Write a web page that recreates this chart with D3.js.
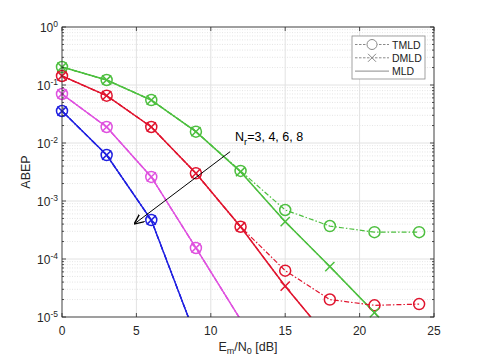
<!DOCTYPE html>
<html><head><meta charset="utf-8">
<script src="https://cdn.jsdelivr.net/npm/d3@7"></script>
<style>body{margin:0;background:#fff}svg{font-family:"Liberation Sans",Arial,sans-serif}</style>
</head><body><svg id="c" width="480" height="360"></svg>
<script>
const snr = [0, 3, 6, 9, 12, 15, 18, 21, 24];
const seriesNames = ["Nr=3", "Nr=4", "Nr=6", "Nr=8"];
const colors = ["#4dbf3f", "#e0142e", "#df52df", "#2020e0"];
const mld3 = [0.204, 0.122, 0.055, 0.0157, 0.0032, 4.4e-4, 7.4e-5, 1.19e-5, 1.5e-6];
const tmld3 = [0.204, 0.122, 0.055, 0.0157, 0.0033, 7.0e-4, 3.7e-4, 2.9e-4, 2.9e-4];
const mld4 = [0.143, 0.0655, 0.0189, 0.003, 3.6e-4, 3.4e-5, 4.0e-6];
const tmld4 = [0.143, 0.0655, 0.0189, 0.003, 3.6e-4, 6.3e-5, 2.0e-5, 1.59e-5, 1.67e-5];
const mld6 = [0.07, 0.0189, 2.6e-3, 1.55e-4, 9e-6];
const mld8 = [0.0356, 0.0062, 4.7e-4, 4.5e-6];
const xTicks = [0, 5, 10, 15, 20, 25];
const yTicks = [1e-5, 1e-4, 1e-3, 1e-2, 1e-1, 1];
const legendNames = ["TMLD", "DMLD", "MLD"];
const arrowFrom = [11.3, 0.0071];
const arrowTo = [4.9, 4.1e-4];

const mldSets = [mld3, mld4, mld6, mld8];
const tmldSets = [tmld3, tmld4, mld6, mld8];
const dmldSets = [mld3, mld4, mld6, mld8];

const L = 62, R = 434, T = 27, B = 317;
const svg = d3.select("#c");
const x = d3.scaleLinear().domain([0, 25]).range([L, R]);
const y = d3.scaleLog().domain([1e-5, 1]).range([B, T]);
const axisCol = "#262626";

svg.append("defs").append("clipPath").attr("id", "clip")
  .append("rect").attr("x", L).attr("y", T).attr("width", R - L).attr("height", B - T);

// grid
const g = svg.append("g");
const minorY = [];
for (let e = -5; e < 0; e++) for (let m = 2; m <= 9; m++) minorY.push(m * Math.pow(10, e));
g.selectAll(".my").data(minorY).enter().append("line")
  .attr("x1", L).attr("x2", R).attr("y1", d => y(d)).attr("y2", d => y(d))
  .attr("stroke", "#d4d4d4").attr("stroke-width", 0.6).attr("stroke-dasharray", "1,1.5");
g.selectAll(".gy").data(yTicks).enter().append("line")
  .attr("x1", L).attr("x2", R).attr("y1", d => y(d)).attr("y2", d => y(d))
  .attr("stroke", "#e2e2e2").attr("stroke-width", 1);
g.selectAll(".gx").data(xTicks).enter().append("line")
  .attr("y1", T).attr("y2", B).attr("x1", d => x(d)).attr("x2", d => x(d))
  .attr("stroke", "#e2e2e2").attr("stroke-width", 1);

// data
const plot = svg.append("g").attr("clip-path", "url(#clip)");
const line = d3.line().x((d, i) => x(snr[i])).y(d => y(d));
const inRange = v => v >= 1e-5 && v <= 1;
const dashDot = "5,2,1.5,2";

mldSets.forEach((arr, k) => {
  plot.append("path").attr("d", line(arr)).attr("fill", "none")
    .attr("stroke", colors[k]).attr("stroke-width", 1.5);
  plot.append("path").attr("d", line(dmldSets[k])).attr("fill", "none")
    .attr("stroke", colors[k]).attr("stroke-width", 1.2).attr("stroke-dasharray", dashDot);
  plot.append("path").attr("d", line(tmldSets[k])).attr("fill", "none")
    .attr("stroke", colors[k]).attr("stroke-width", 1.2).attr("stroke-dasharray", dashDot);
});
const mk = svg.append("g");
tmldSets.forEach((arr, k) => {
  arr.forEach((v, i) => {
    if (!inRange(v)) return;
    mk.append("circle").attr("cx", x(snr[i])).attr("cy", y(v)).attr("r", 5.5)
      .attr("fill", "none").attr("stroke", colors[k]).attr("stroke-width", 1.5);
  });
});
dmldSets.forEach((arr, k) => {
  arr.forEach((v, i) => {
    if (!inRange(v)) return;
    const cx = x(snr[i]), cy = y(v), s = 4.6;
    mk.append("path").attr("d", `M${cx-s},${cy-s}L${cx+s},${cy+s}M${cx-s},${cy+s}L${cx+s},${cy-s}`)
      .attr("stroke", colors[k]).attr("stroke-width", 1.5).attr("fill", "none");
  });
});

// axes box
svg.append("rect").attr("x", L).attr("y", T).attr("width", R - L).attr("height", B - T)
  .attr("fill", "none").attr("stroke", axisCol).attr("stroke-width", 0.8);
// ticks
const tk = svg.append("g").attr("stroke", axisCol).attr("stroke-width", 0.8);
xTicks.forEach(t => {
  tk.append("line").attr("x1", x(t)).attr("x2", x(t)).attr("y1", B).attr("y2", B - 4);
  tk.append("line").attr("x1", x(t)).attr("x2", x(t)).attr("y1", T).attr("y2", T + 4);
});
yTicks.forEach(t => {
  tk.append("line").attr("x1", L).attr("x2", L + 4).attr("y1", y(t)).attr("y2", y(t));
  tk.append("line").attr("x1", R).attr("x2", R - 4).attr("y1", y(t)).attr("y2", y(t));
});
minorY.forEach(t => {
  tk.append("line").attr("x1", L).attr("x2", L + 2).attr("y1", y(t)).attr("y2", y(t));
  tk.append("line").attr("x1", R).attr("x2", R - 2).attr("y1", y(t)).attr("y2", y(t));
});

// tick labels
const lab = svg.append("g").attr("fill", axisCol).attr("font-size", 12);
xTicks.forEach(t => {
  lab.append("text").attr("x", x(t)).attr("y", B + 18).attr("text-anchor", "middle").text(t);
});
yTicks.forEach(t => {
  const e = Math.round(Math.log10(t));
  const tx = lab.append("text").attr("x", 58).attr("y", y(t) + 5).attr("text-anchor", "end");
  tx.append("tspan").text("10");
  tx.append("tspan").attr("dy", -5).attr("font-size", 8.5).text(e);
});

// axis labels
const xl = svg.append("text").attr("x", 248).attr("y", 351).attr("text-anchor", "middle")
  .attr("font-size", 12.5).attr("fill", axisCol);
xl.append("tspan").text("E");
xl.append("tspan").attr("dy", 3).attr("font-size", 9).text("m");
xl.append("tspan").attr("dy", -3).text("/N");
xl.append("tspan").attr("dy", 3).attr("font-size", 9).text("0");
xl.append("tspan").attr("dy", -3).text(" [dB]");
svg.append("text").attr("transform", `translate(30,${(T + B) / 2}) rotate(-90)`)
  .attr("text-anchor", "middle").attr("font-size", 12.5).attr("fill", axisCol).text("ABEP");

// annotation
svg.append("defs").append("marker").attr("id", "ah").attr("viewBox", "0 0 10 10")
  .attr("refX", 9).attr("refY", 5).attr("markerWidth", 10).attr("markerHeight", 10)
  .attr("markerUnits", "userSpaceOnUse").attr("orient", "auto")
  .append("path").attr("d", "M0,0.5L10,5L0,9.5").attr("fill", "none").attr("stroke", "#000").attr("stroke-width", 1.4);
svg.append("line").attr("x1", x(arrowFrom[0])).attr("y1", y(arrowFrom[1]))
  .attr("x2", x(arrowTo[0])).attr("y2", y(arrowTo[1]))
  .attr("stroke", "#000").attr("stroke-width", 1).attr("marker-end", "url(#ah)");
const an = svg.append("text").attr("x", 235).attr("y", 141).attr("font-size", 12.5).attr("fill", "#000");
an.append("tspan").text("N");
an.append("tspan").attr("dy", 4).attr("font-size", 9.5).text("r");
an.append("tspan").attr("dy", -4).text("=3, 4, 6, 8");

// legend
const lg = svg.append("g");
lg.append("rect").attr("x", 352).attr("y", 36).attr("width", 73).attr("height", 43)
  .attr("fill", "#fff").attr("stroke", "#8a8a8a").attr("stroke-width", 0.8);
const lgCol = "#8a8a8a";
legendNames.forEach((nm, i) => {
  const ly = 44.5 + i * 13.3;
  lg.append("line").attr("x1", 355).attr("x2", 389).attr("y1", ly).attr("y2", ly)
    .attr("stroke", lgCol).attr("stroke-width", 1).attr("stroke-dasharray", i < 2 ? "2.5,1.5" : null);
  if (i === 0) lg.append("circle").attr("cx", 372).attr("cy", ly).attr("r", 5)
    .attr("fill", "#fff").attr("stroke", lgCol).attr("stroke-width", 1);
  if (i === 1) lg.append("path").attr("d", `M368,${ly-4}L376,${ly+4}M368,${ly+4}L376,${ly-4}`)
    .attr("stroke", lgCol).attr("stroke-width", 1);
  lg.append("text").attr("x", 392).attr("y", ly + 4).attr("font-size", 10.5).attr("fill", "#222").text(nm);
});
</script></body></html>
